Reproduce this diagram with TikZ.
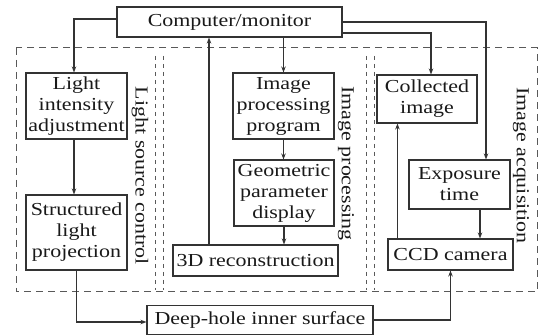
\documentclass[tikz,border=0pt]{standalone}
\usepackage{fontspec}
\setmainfont[FakeStretch=1.2]{Liberation Serif}
\usepackage{tikz}
\usetikzlibrary{arrows.meta,positioning,calc}

\begin{document}
\begin{tikzpicture}[
    x=1pt, y=-1pt,
    block/.style={rectangle, draw=black!80, line width=1.1pt, fill=white, align=center, inner sep=0pt,
                  font=\fontsize{18.3}{21}\selectfont, text=black!90},
    zone/.style={draw=black!65, line width=1pt, dash pattern=on 7pt off 5pt},
    zonesep/.style={draw=black!65, line width=1pt, dash pattern=on 4pt off 4pt},
    tag/.style={rotate=-90, font=\fontsize{18.3}{21}\selectfont, text=black!90},
    arr/.style={-{Stealth[length=6pt,width=4.5pt]}, line width=1.1pt, color=black!80}
]
    \useasboundingbox (0,0) rectangle (538,336);

    % Dashed zones
    \draw[zone] (16,48) rectangle (537,292);
    \draw[zonesep] (155,56) -- (155,290);
    \draw[zonesep] (163,56) -- (163,290);
    \draw[zonesep] (366,56) -- (366,290);
    \draw[zonesep] (374,56) -- (374,290);

    % Blocks
    \node[block, minimum width=225pt, minimum height=30pt] (comp)   at (229.5,22)  {Computer/monitor};
    \node[block, minimum width=101pt, minimum height=66pt] (light)  at (76.5,106)  {Light\\intensity\\adjustment};
    \node[block, minimum width=101pt, minimum height=75pt] (struct) at (76.5,232.5) {Structured\\light\\projection};
    \node[block, minimum width=101pt, minimum height=66pt] (improc) at (283.5,106) {Image\\processing\\program};
    \node[block, minimum width=100pt, minimum height=66pt] (geom)   at (284,193)   {Geometric\\parameter\\display};
    \node[block, minimum width=165pt, minimum height=31pt] (recon)  at (255.5,260.5) {3D reconstruction};
    \node[block, minimum width=100pt, minimum height=48pt] (coll)   at (427,99)    {Collected\\image};
    \node[block, minimum width=101pt, minimum height=49pt] (expo)   at (459.5,184.5) {Exposure\\time};
    \node[block, minimum width=125pt, minimum height=31pt] (ccd)    at (450.5,254.5) {CCD camera};
    \node[block, minimum width=226pt, minimum height=29pt] (deep)   at (260,320)   {Deep-hole inner surface};

    % Zone labels
    \node[tag] (lsc) at (140,176)   {Light source control};
    \node[tag] (ipr) at (346,163.5) {Image processing};
    \node[tag] (iac) at (521,165.5) {Image acquisition};

    % Light source side
    \draw[arr] ([yshift=3pt]comp.west) -| ([xshift=-2.5pt]light.north);
    \draw[arr] ([xshift=-2.5pt]light.south) -- ([xshift=-2.5pt]struct.north);
    \draw[arr] (struct.south) |- ([yshift=-2pt]deep.west);

    % Processing side
    \draw[arr] (improc.north |- comp.south) -- (improc.north);
    \draw[arr] (improc.south) -- (improc.south |- geom.north);
    \draw[arr] (geom.south) -- (geom.south |- recon.north);
    \draw[arr] ([xshift=-46.5pt]recon.north) -- ([xshift=-46.5pt]recon.north |- comp.south);

    % Acquisition side
    \draw[arr] ([yshift=-11pt]comp.east) -| ([xshift=4pt]coll.north);
    \draw[arr] (comp.east) -| ([xshift=26.5pt]expo.north);
    \draw[arr] ([xshift=20.5pt]expo.south) -- ([xshift=20.5pt]expo.south |- ccd.north);
    \draw[arr] ([xshift=10pt]ccd.north west) -- ([xshift=10pt]ccd.north west |- coll.south);
    \draw[arr] (deep.east) -| (ccd.south);

\end{tikzpicture}
\end{document}
